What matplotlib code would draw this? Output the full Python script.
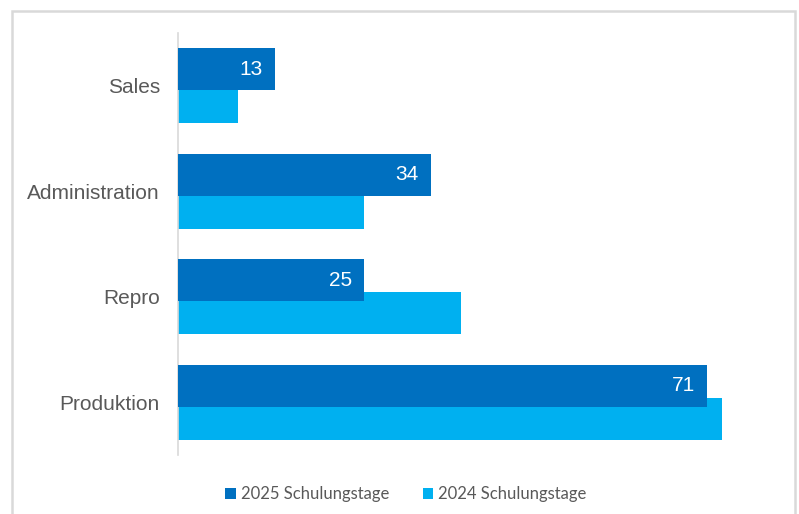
import matplotlib
matplotlib.use("Agg")
import matplotlib.pyplot as plt
from matplotlib.patches import Rectangle

categories = ["Sales", "Administration", "Repro", "Produktion"]
tage_2025 = [13, 34, 25, 71]
tage_2024 = [8, 25, 38, 73]

dark_blue = "#0070C0"
light_blue = "#00B0F0"
text_grey = "#595959"

fig = plt.figure(figsize=(7.99, 5.14), dpi=100)
ax = fig.add_axes([178 / 799, (514 - 455) / 514, 600 / 799, 422 / 514])

# frame around the whole chart area
fig.patches.append(Rectangle((11.5 / 799, -0.05), (795 - 11.5) / 799, (514 - 10.5) / 514 + 0.05,
                             transform=fig.transFigure, fill=False,
                             edgecolor="#D9D9D9", linewidth=1.8))

pos = list(range(len(categories)))
off = 0.157
h = 0.4

bars24 = ax.barh([p + off for p in pos], tage_2024, height=h, color=light_blue,
                 label="2024 Schulungstage", zorder=2)
bars25 = ax.barh([p - off for p in pos], tage_2025, height=h, color=dark_blue,
                 label="2025 Schulungstage", zorder=3)

for p, v in zip(pos, tage_2025):
    ax.annotate(str(v), xy=(v, p - off), xytext=(-9, 0), textcoords="offset points",
                ha="right", va="center", color="white", fontsize=15,
                family="Liberation Sans", zorder=4)

ax.set_xlim(0, 80.5)
ax.set_ylim(3.5, -0.5)
ax.set_yticks(pos)
ax.set_yticklabels(categories, fontsize=15, color=text_grey, family="Liberation Sans")
ax.tick_params(axis="y", length=0, pad=13)
ax.set_xticks([])
for side in ["top", "right", "bottom"]:
    ax.spines[side].set_visible(False)
ax.spines["left"].set_color("#D9D9D9")
ax.spines["left"].set_linewidth(1.2)

handles = [bars25, bars24]
leg = fig.legend(handles, ["2025 Schulungstage", "2024 Schulungstage"],
                 loc="center", bbox_to_anchor=(406 / 799, (514 - 494) / 514),
                 ncol=2, frameon=False, handlelength=0.65, handleheight=0.65,
                 handletextpad=0.3, columnspacing=2.0,
                 prop={"family": "Lato", "size": 12})
for t in leg.get_texts():
    t.set_color(text_grey)

fig.savefig("out.png", dpi=100, facecolor="white")
